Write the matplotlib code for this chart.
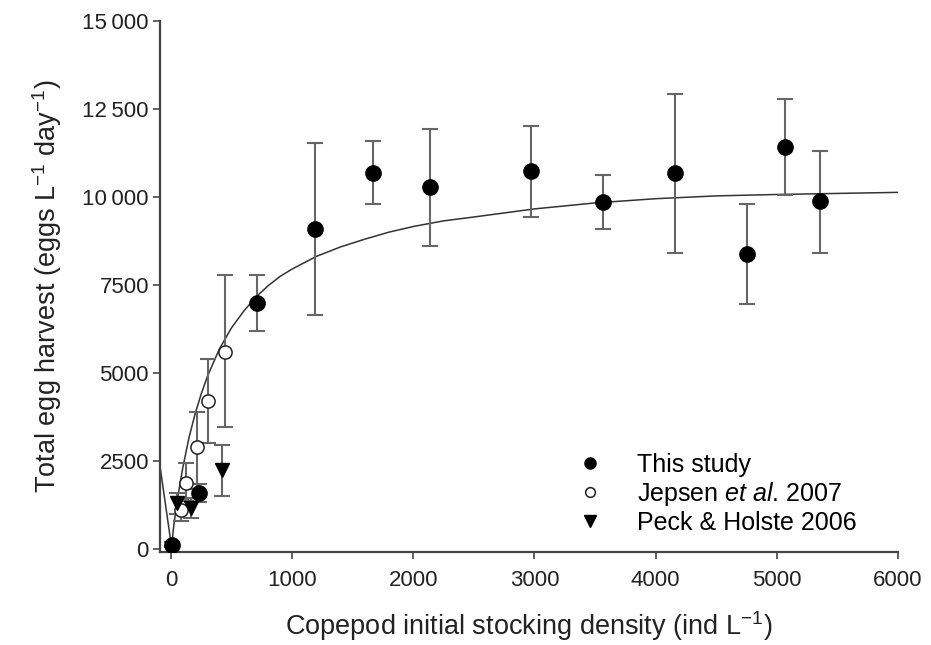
import numpy as np
import matplotlib.pyplot as plt

plt.rcParams['font.family'] = ['Liberation Sans', 'DejaVu Sans']
plt.rcParams['mathtext.fontset'] = 'custom'
plt.rcParams['mathtext.rm'] = 'Liberation Sans'
plt.rcParams['mathtext.it'] = 'Liberation Sans:italic'
plt.rcParams['mathtext.default'] = 'regular'

# This study (filled circles)
study_x = [8, 234, 713, 1193, 1667, 2140, 2973, 3568, 4157, 4758, 5069, 5353]
study_y = [110, 1580, 7000, 9080, 10690, 10280, 10730, 9870, 10670, 8390, 11430, 9880]
study_lo = [40, 1330, 6200, 6650, 9790, 8620, 9440, 9090, 8420, 6960, 10060, 8420]
study_hi = [180, 1830, 7780, 11530, 11590, 11930, 12030, 10630, 12930, 9790, 12780, 11300]

# Jepsen et al. 2007 (open circles)
jep_x = [80, 124, 212, 308, 446]
jep_y = [1100, 1880, 2880, 4190, 5600]
jep_lo = [800, 1350, 1700, 3000, 3470]
jep_hi = [1400, 2450, 3880, 5390, 7780]

# Peck & Holste 2006 (filled triangles)
peck_x = [47, 163, 419]
peck_y = [1300, 1160, 2240]
peck_lo = [1000, 890, 1500]
peck_hi = [1600, 1450, 2950]

# fitted curve
fit_x = [-90, 5, 25, 50, 75, 100, 150, 200, 250, 300, 400, 500, 600, 700, 800,
         900, 1000, 1200, 1400, 1600, 1800, 2000, 2250, 2500, 3000, 3500, 4000,
         4500, 5000, 5500, 6000]
fit_y = [2350, 60, 700, 1310, 1850, 2340, 3170, 3840, 4400, 4890, 5680, 6280,
         6750, 7150, 7470, 7740, 7950, 8310, 8580, 8800, 9000, 9160, 9320, 9430,
         9660, 9830, 9950, 10030, 10070, 10100, 10130]

ink = '#222222'
bar_col = '#666666'

fig = plt.figure(figsize=(9.31, 6.45), dpi=100)
ax = fig.add_axes([160 / 931, 93 / 645, 738 / 931, 531 / 645])

ax.plot(fit_x, fit_y, color='#333333', lw=1.1, zorder=2)


def draw(x, y, lo, hi, **kw):
    y = np.array(y)
    err = [y - np.array(lo), np.array(hi) - y]
    ax.errorbar(x, y, yerr=err, fmt='none', ecolor=bar_col, elinewidth=1.5,
                capsize=6, capthick=1.5, zorder=3)
    ax.plot(x, y, ls='none', zorder=4, **kw)


draw(jep_x, jep_y, jep_lo, jep_hi, marker='o', ms=9.5, mfc='white', mec=ink, mew=1.1)
draw(peck_x, peck_y, peck_lo, peck_hi, marker='v', ms=10, color='black')
draw(study_x, study_y, study_lo, study_hi, marker='o', ms=11, color='black')

h1, = ax.plot([], [], 'o', color='black', ms=8)
h2, = ax.plot([], [], 'o', mfc='white', mec=ink, mew=1.1, ms=7)
h3, = ax.plot([], [], 'v', color='black', ms=8)
ax.legend([h1, h2, h3], ['This study', r'Jepsen $\it{et\ al}$. 2007', 'Peck & Holste 2006'],
          loc='upper left', bbox_to_anchor=(0.566, 0.186), frameon=False,
          fontsize=18, handlelength=1.0, handletextpad=1.38, labelspacing=0.12,
          borderaxespad=0, borderpad=0)

ax.set_xlim(-90, 6000)
ax.set_ylim(-90, 15000)
ax.set_xticks([0, 1000, 2000, 3000, 4000, 5000, 6000])
ax.set_yticks([0, 2500, 5000, 7500, 10000, 12500, 15000])
ax.set_yticklabels(['0', '2500', '5000', '7500', '10\u2009000', '12\u2009500', '15\u2009000'])

for s in ['top', 'right']:
    ax.spines[s].set_visible(False)
for s in ['left', 'bottom']:
    ax.spines[s].set_color('#444444')
    ax.spines[s].set_linewidth(1.6)
ax.tick_params(direction='out', length=5, width=1.2, colors='#444444',
               labelcolor=ink, labelsize=16)
ax.tick_params(axis='x', pad=8)
ax.tick_params(axis='y', pad=3)

ax.set_xlabel('Copepod initial stocking density (ind L$^{-1}$)', fontsize=19.5,
              color=ink, labelpad=13)
ax.set_ylabel('Total egg harvest (eggs L$^{-1}$ day$^{-1}$)', fontsize=19.5,
              color=ink, labelpad=13)

fig.savefig('out.png', dpi=100)
